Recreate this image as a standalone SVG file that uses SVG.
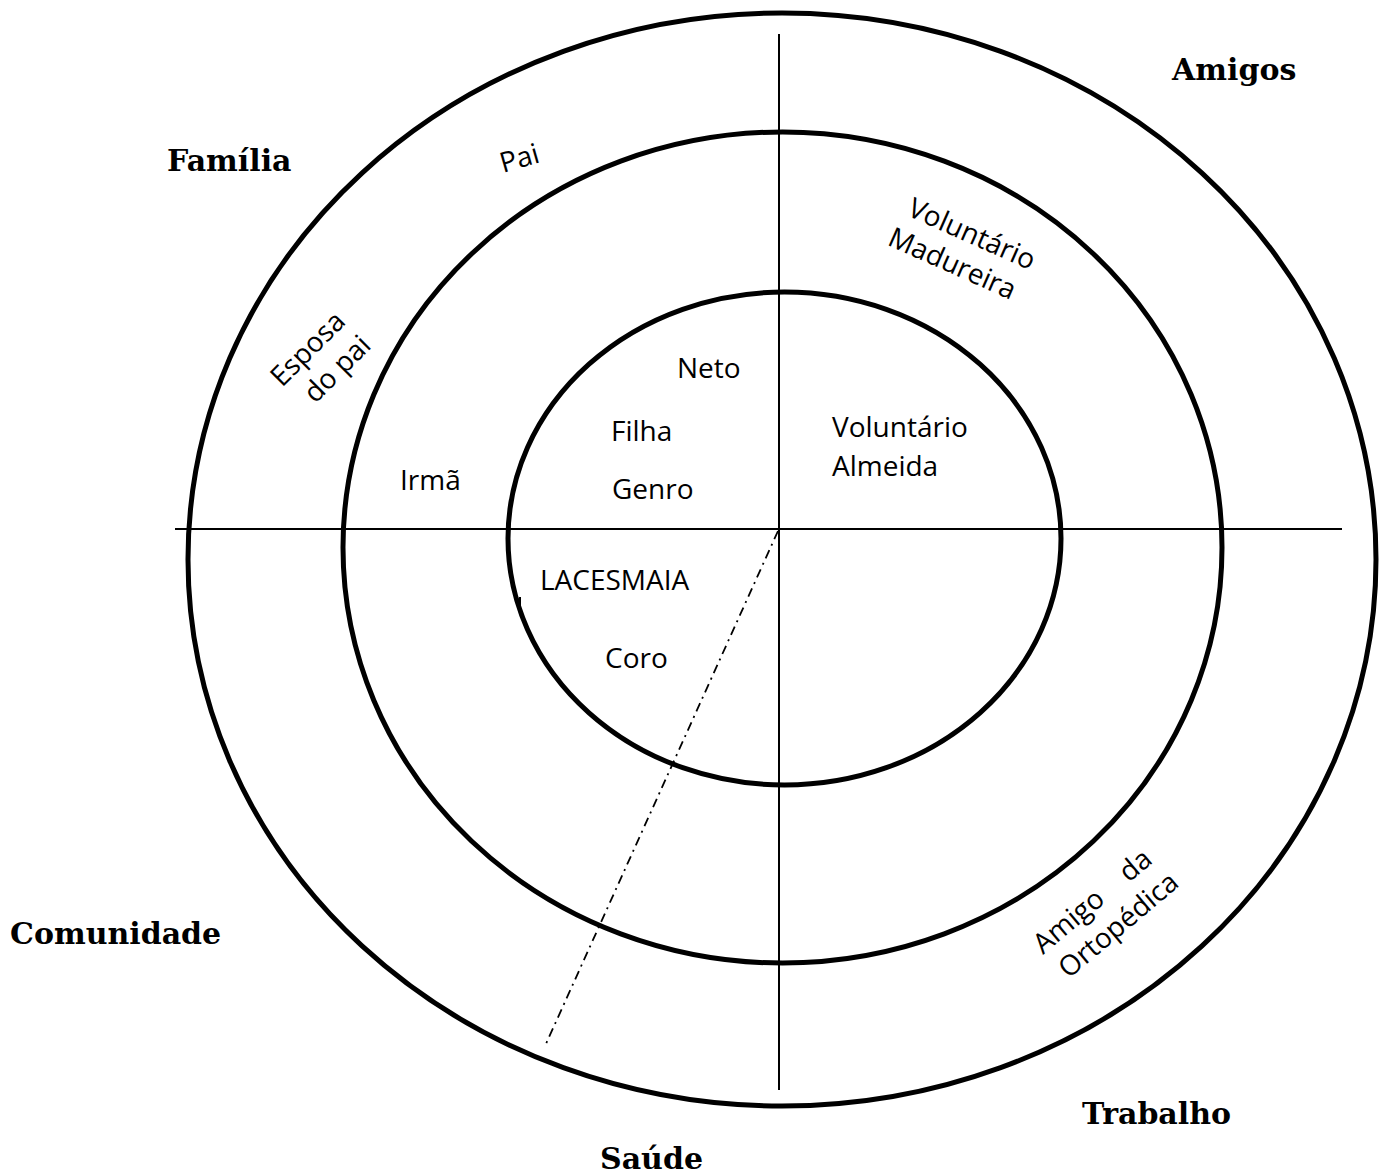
<svg xmlns="http://www.w3.org/2000/svg" width="1389" height="1176" viewBox="0 0 1389 1176">
<style>
.ring{fill:none;stroke:#000;stroke-width:5}
.ax{stroke:#000;stroke-width:2;fill:none}
.dd{stroke:#000;stroke-width:1.8;fill:none;stroke-dasharray:9 5 2 5}
.h{font-family:"DejaVu Serif","Liberation Serif",serif;font-weight:bold;font-size:30px;fill:#000}
.l{font-family:"Open Sans","Liberation Sans",sans-serif;font-size:28px;fill:#000}
</style>
<rect width="1389" height="1176" fill="#fff"/>
<g id="rings">
<ellipse id="outer" class="ring" cx="782" cy="559.5" rx="594" ry="546.5"/>
<ellipse id="middle" class="ring" cx="782.5" cy="547.5" rx="439.5" ry="415.5"/>
<ellipse id="inner" class="ring" cx="784.5" cy="538.5" rx="276.5" ry="246.5"/>
</g>
<g id="connectors">
<line class="ax" x1="175" y1="529" x2="1342" y2="529"/>
<line class="ax" x1="779" y1="34" x2="779" y2="1090"/>
<line class="dd" x1="778" y1="531" x2="545" y2="1046"/>
<line class="ax" x1="520" y1="597" x2="520" y2="607"/>
</g>
<g id="headers">
<text id="familia" class="h" x="167" y="171">Família</text>
<text id="amigos" class="h" x="1172" y="80">Amigos</text>
<text id="comunidade" class="h" x="10" y="944">Comunidade</text>
<text id="trabalho" class="h" x="1082" y="1124">Trabalho</text>
<text id="saude" class="h" x="600" y="1169">Saúde</text>
</g>
<g id="labels">
<text id="pai" class="l" transform="translate(503,173) rotate(-16)">Pai</text>
<g id="esposa" transform="translate(282,388) rotate(-45)">
<text class="l" x="0" y="0">Esposa</text>
<text class="l" x="12" y="35">do pai</text>
</g>
<g id="madureira" transform="translate(906,215) rotate(24)">
<text class="l" x="0" y="0">Voluntário</text>
<text class="l" x="-6" y="35">Madureira</text>
</g>
<g id="ortopedica" transform="translate(1043,955) rotate(-40)">
<text class="l" x="0" y="0" word-spacing="22">Amigo da</text>
<text class="l" x="4" y="35">Ortopédica</text>
</g>
<text id="neto" class="l" x="677" y="378">Neto</text>
<text id="filha" class="l" x="611" y="441">Filha</text>
<text id="genro" class="l" x="612" y="499">Genro</text>
<text id="irma" class="l" x="400" y="490">Irmã</text>
<text id="volalmeida1" class="l" x="832" y="437">Voluntário</text>
<text id="volalmeida2" class="l" x="832" y="476">Almeida</text>
<text id="lacesmaia" class="l" x="540" y="590">LACESMAIA</text>
<text id="coro" class="l" x="605" y="668">Coro</text>
</g>
</svg>
